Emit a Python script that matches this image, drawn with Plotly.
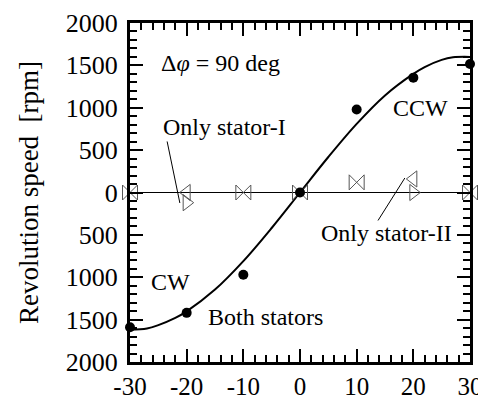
import plotly.graph_objects as go

# Data
angle = [-30, -20, -10, 0, 10, 20, 30]
both_stators = [-1590, -1420, -970, 0, 980, 1355, 1516]
only_stator_I = [0, -120, 0, 0, 120, 0, 0]      # right-pointing open triangles
only_stator_II = [0, 0, 0, 0, 120, 160, 0]      # left-pointing open triangles

fit_x = [-30, -27, -25, -22, -20, -15, -10, -5, 0, 5, 10, 15, 20, 22, 25, 27, 30]
fit_y = [-1620, -1605, -1565, -1480, -1403, -1146, -810, -419, 0, 419, 810, 1146, 1400, 1480, 1565, 1595, 1600]

zero_x = [-30, 30]
zero_y = [0, 0]

x_ticks = [-30, -20, -10, 0, 10, 20, 30]
x_ticktext = ["-30", "-20", "-10", "0", "10", "20", "30"]
y_ticks = [-2000, -1500, -1000, -500, 0, 500, 1000, 1500, 2000]
y_ticktext = ["2000", "1500", "1000", "500", "0", "500", "1000", "1500", "2000"]

FONT = "Liberation Serif, Times New Roman, serif"
GRAY = "#555555"

# where both single-stator markers coincide they form a bowtie
same_x = [a for a, s1, s2 in zip(angle, only_stator_I, only_stator_II) if s1 == s2]
same_y = [s1 for s1, s2 in zip(only_stator_I, only_stator_II) if s1 == s2]
s1_x = [a for a, s1, s2 in zip(angle, only_stator_I, only_stator_II) if s1 != s2]
s1_y = [s1 for s1, s2 in zip(only_stator_I, only_stator_II) if s1 != s2]
s2_x = s1_x
s2_y = [s2 for s1, s2 in zip(only_stator_I, only_stator_II) if s1 != s2]

fig = go.Figure()
fig.add_trace(go.Scatter(x=zero_x, y=zero_y, mode="lines",
                         line=dict(color="black", width=1), showlegend=False, hoverinfo="skip"))
fig.add_trace(go.Scatter(x=fit_x, y=fit_y, mode="lines", line_shape="spline",
                         line=dict(color="black", width=2), showlegend=False, cliponaxis=False))
fig.add_trace(go.Scatter(x=same_x, y=same_y, mode="markers",
                         marker=dict(symbol="bowtie-open", size=15,
                                     color=GRAY, line=dict(width=1, color=GRAY)),
                         showlegend=False, cliponaxis=False))
fig.add_trace(go.Scatter(x=s1_x, y=s1_y, mode="markers",
                         marker=dict(symbol="triangle-right-open", size=14,
                                     color=GRAY, line=dict(width=1, color=GRAY)),
                         showlegend=False, cliponaxis=False))
fig.add_trace(go.Scatter(x=s2_x, y=s2_y, mode="markers",
                         marker=dict(symbol="triangle-left-open", size=14,
                                     color=GRAY, line=dict(width=1, color=GRAY)),
                         showlegend=False, cliponaxis=False))
fig.add_trace(go.Scatter(x=angle, y=both_stators, mode="markers",
                         marker=dict(symbol="circle", size=10, color="black"),
                         showlegend=False, cliponaxis=False))

ann_font = dict(family=FONT, size=24, color="black")
annotations = [
    dict(x=-24.9, y=1528, text="Δ<i>φ</i> = 90 deg", xanchor="left", yanchor="middle", showarrow=False, font=ann_font),
    dict(x=-24.6, y=773, text="Only stator-I", xanchor="left", yanchor="middle", showarrow=False, font=ann_font),
    dict(x=21.2, y=997, text="CCW", xanchor="center", yanchor="middle", showarrow=False, font=ann_font),
    dict(x=-22.8, y=-1056, text="CW", xanchor="center", yanchor="middle", showarrow=False, font=ann_font),
    dict(x=-16.6, y=-1469, text="Both stators", xanchor="left", yanchor="middle", showarrow=False, font=ann_font),
    dict(x=3.3, y=-478, text="Only stator-II", xanchor="left", yanchor="middle", showarrow=False, font=ann_font),
    dict(x=-21.2, y=-124, ax=-23.5, ay=620, axref="x", ayref="y", xref="x", yref="y",
         text="", showarrow=True, arrowhead=0, arrowwidth=1, arrowcolor="black"),
    dict(x=18.5, y=171, ax=13.6, ay=-348, axref="x", ayref="y", xref="x", yref="y",
         text="", showarrow=True, arrowhead=0, arrowwidth=1, arrowcolor="black"),
]

axis_common = dict(showline=True, linecolor="black", linewidth=3, mirror="allticks",
                   ticks="inside", tickwidth=2, tickcolor="black", ticklen=13,
                   showgrid=False, zeroline=False, automargin=False)

fig.update_xaxes(range=[-30, 30], tickvals=x_ticks, ticktext=x_ticktext,
                 ticklabelstandoff=0,
                 tickfont=dict(family=FONT, size=25, color="black"),
                 minor=dict(ticks="inside", dtick=2, ticklen=7, tickwidth=1.5, tickcolor="black"),
                 **axis_common)
fig.update_yaxes(range=[-2000, 2000], tickvals=y_ticks, ticktext=y_ticktext,
                 ticklabelstandoff=4,
                 tickfont=dict(family=FONT, size=26, color="black"),
                 minor=dict(ticks="inside", dtick=100, ticklen=7, tickwidth=1.5, tickcolor="black"),
                 title=dict(text="Revolution speed\u00a0\u00a0[rpm]", font=dict(family=FONT, size=27, color="black"),
                            standoff=20),
                 **axis_common)

# The page body has an 8px margin; the figure is sized so the plot area lands where the reference's does.
fig.update_layout(width=478, height=391, margin=dict(l=122, r=16, t=15, b=37),
                  plot_bgcolor="white", paper_bgcolor="white",
                  annotations=annotations, showlegend=False)

fig.write_html("out.html")
